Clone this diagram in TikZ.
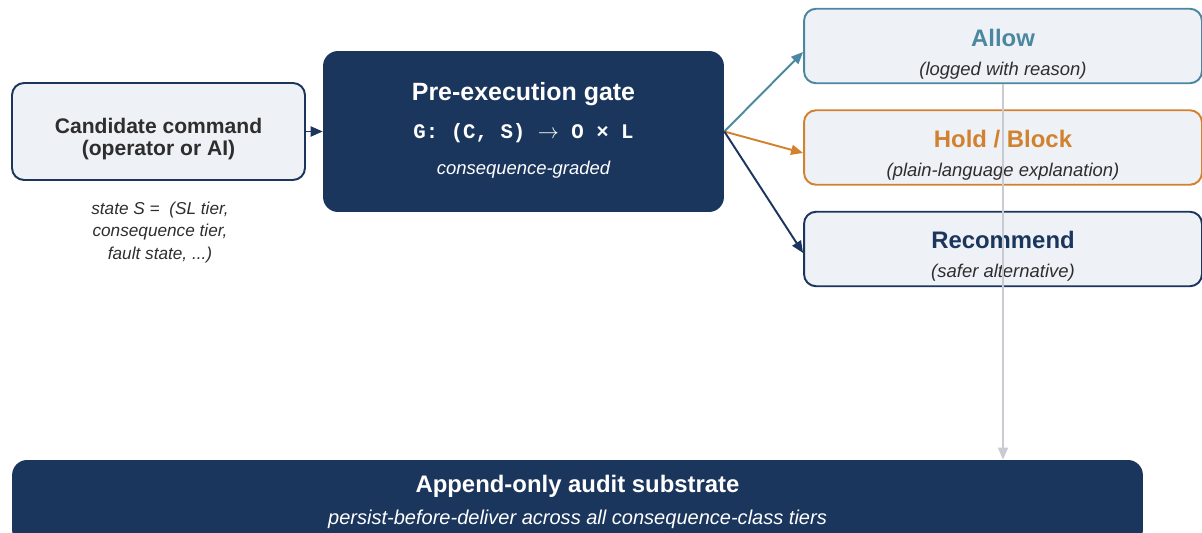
\documentclass[tikz,border=0pt]{standalone}
\usepackage{fontspec}
\setmainfont{Liberation Sans}
\setsansfont{Liberation Sans}
\setmonofont{Liberation Mono}
\usetikzlibrary{arrows.meta}
\definecolor{navy}{HTML}{1B365D}
\definecolor{tealc}{HTML}{4B87A0}
\definecolor{orangec}{HTML}{D2822F}
\definecolor{paper}{HTML}{EEF1F6}
\definecolor{inkc}{HTML}{2E2E2E}
\definecolor{greyc}{HTML}{C8CCD2}
\begin{document}
\begin{tikzpicture}[x=0.02cm,y=-0.02cm,
  lightbox/.style={draw,fill=paper,line width=1.1pt,rounded corners=0.24cm,inner sep=0pt},
  darkbox/.style={fill=navy,rounded corners=0.3cm,inner sep=0pt},
  outbox/.style={lightbox,minimum width=7.96cm,minimum height=1.49cm},
  title/.style={font=\fontsize{13.6}{16}\selectfont\bfseries,inner sep=0pt},
  sub/.style={font=\fontsize{10.5}{13}\selectfont\itshape,text=inkc,inner sep=0pt},
  link/.style={line width=1.1pt,-{Triangle[length=2.4mm,width=2mm]}}]
\useasboundingbox (0,0) rectangle (1202,533);
% input and gate
\node[lightbox,draw=navy,minimum width=5.86cm,minimum height=1.94cm] (cand) at (158.5,131.5) {};
\node[inner sep=0pt,align=center,font=\fontsize{12}{12.5}\selectfont\bfseries,text=inkc] (candt) at (158.5,139)
  {Candidate command\\(operator or AI)};
\node[sub,align=center,font=\fontsize{9.8}{12.8}\selectfont\itshape] (state) at (160,232.5)
  {state S =\ \ (SL tier,\\consequence tier,\\fault state, ...)};
\node[darkbox,minimum width=8.02cm,minimum height=3.22cm] (gate) at (523.5,131.5) {};
\node[title,text=white,font=\fontsize{14.2}{16}\selectfont\bfseries] (gatet) at (523.5,94) {Pre-execution gate};
\node[inner sep=0pt,text=white,font=\fontsize{11.8}{13}\selectfont\ttfamily\bfseries] (gatef) at (523.5,133)
  {G: (C, S) $\rightarrow$ O × L};
\node[sub,text=white] (gates) at (523.5,169.5) {consequence-graded};
% outcomes
\node[outbox,draw=tealc] (allow) at (1003,46) {};
\node[title,text=tealc] (allowt) at (1003,38) {Allow};
\node[sub] (allows) at (1003,71) {(logged with reason)};
\node[outbox,draw=orangec] (hold) at (1003,147.5) {};
\node[title,text=orangec] (holdt) at (1003,139) {Hold / Block};
\node[sub] (holds) at (1003,172) {(plain-language explanation)};
\node[outbox,draw=navy] (rec) at (1003,249) {};
\node[title,text=navy] (rect) at (1003,239.5) {Recommend};
\node[sub] (recs) at (1003,272.5) {(safer alternative)};
% audit
\node[darkbox,minimum width=22.62cm,minimum height=1.7cm] (audit) at (577.5,502.5) {};
\node[title,text=white] (auditt) at (577.5,486.5) {Append-only audit substrate};
\node[sub,text=white,font=\fontsize{11.4}{13}\selectfont\itshape] (audits) at (577.5,519.5)
  {persist-before-deliver across all consequence-class tiers};
% connectors
\draw[link,navy] (cand) -- (gate);
\draw[link,tealc] (gate.east) -- ([yshift=-0.12cm]allow.west);
\draw[link,orangec] (gate.east) -- ([yshift=-0.11cm]hold.west);
\draw[link,navy] (gate.east) -- ([yshift=-0.08cm]rec.west);
\draw[link,greyc,line width=0.9pt] (allow.south) -- (audit.north -| allow.south);
\end{tikzpicture}
\end{document}
